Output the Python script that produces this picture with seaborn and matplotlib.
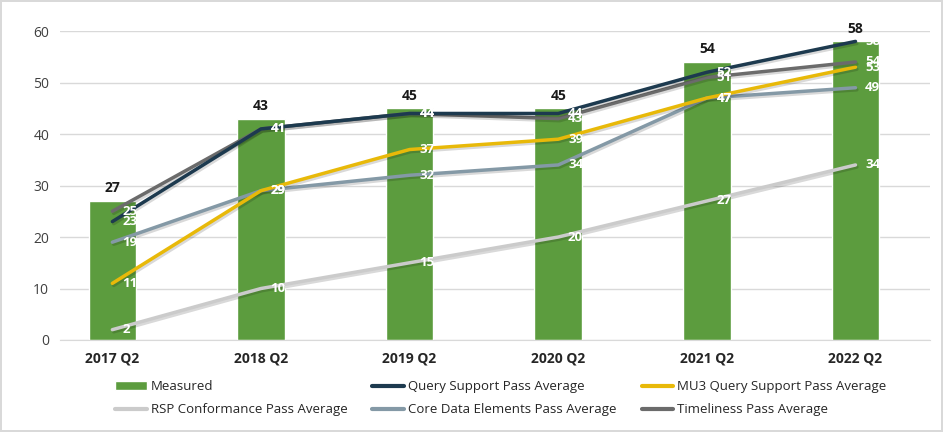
import matplotlib
matplotlib.use("Agg")
import matplotlib.pyplot as plt
import matplotlib.patheffects as pe
from matplotlib.patches import Patch
from matplotlib.lines import Line2D
import seaborn as sns
import pandas as pd

# data
quarters = ["2017 Q2", "2018 Q2", "2019 Q2", "2020 Q2", "2021 Q2", "2022 Q2"]
measured = [27, 43, 45, 45, 54, 58]
query_support = [23, 41, 44, 44, 52, 58]
mu3_query = [11, 29, 37, 39, 47, 53]
rsp_conformance = [2, 10, 15, 20, 27, 34]
core_data = [19, 29, 32, 34, 47, 49]
timeliness = [25, 41, 44, 43, 51, 54]

series = {
    "Query Support Pass Average": query_support,
    "MU3 Query Support Pass Average": mu3_query,
    "RSP Conformance Pass Average": rsp_conformance,
    "Core Data Elements Pass Average": core_data,
    "Timeliness Pass Average": timeliness,
}
colors = {
    "Query Support Pass Average": "#1d3a4f",
    "MU3 Query Support Pass Average": "#e8b909",
    "RSP Conformance Pass Average": "#cbcbcb",
    "Core Data Elements Pass Average": "#8499a6",
    "Timeliness Pass Average": "#6b6b6b",
}
bar_color = "#5c9c3e"

# draw order: lowest first so the darker lines sit on top
draw_order = ["RSP Conformance Pass Average", "Core Data Elements Pass Average",
              "MU3 Query Support Pass Average", "Timeliness Pass Average",
              "Query Support Pass Average"]

sns.set_style("white")
plt.rcParams["font.family"] = ["Open Sans", "DejaVu Sans"]

fig = plt.figure(figsize=(9.43, 4.32), dpi=100)
fig.patch.set_edgecolor("#d9d9d9")
fig.patch.set_linewidth(1.5)
ax = fig.add_axes([0.064, 0.213, 0.922, 0.715])

bars_df = pd.DataFrame({"quarter": quarters, "value": measured})
sns.barplot(data=bars_df, x="quarter", y="value", color=bar_color,
            width=0.32, saturation=1, ax=ax, zorder=2)
for i, v in enumerate(measured):
    ax.annotate(str(v), (i, v), xytext=(0, 4), textcoords="offset points",
                ha="center", va="bottom", fontsize=10, fontweight="bold",
                color="#1a1a1a", annotation_clip=False)

long_rows = []
for name in draw_order:
    for q, v in zip(quarters, series[name]):
        long_rows.append({"quarter": q, "value": v, "series": name})
lines_df = pd.DataFrame(long_rows)

sns.lineplot(data=lines_df, x="quarter", y="value", hue="series",
             hue_order=draw_order, palette=colors, linewidth=2.5,
             sort=False, legend=False, ax=ax, zorder=3,
             path_effects=[pe.SimpleLineShadow(offset=(1, -1.5), alpha=0.15),
                           pe.Normal()])

for name in draw_order:
    for i, v in enumerate(series[name]):
        ax.annotate(str(v), (i, v), xytext=(7, 0), textcoords="offset points",
                    ha="left", va="center", fontsize=9.5, fontweight="bold",
                    color="white", zorder=5)

ax.set_ylim(0, 60)
ax.set_xlim(-0.35, 5.5)
ax.set_yticks(range(0, 61, 10))
ax.yaxis.grid(True, color="#d9d9d9", linewidth=1)
ax.set_axisbelow(True)
ax.set_xlabel("")
ax.set_ylabel("")
for s in ["top", "right", "left"]:
    ax.spines[s].set_visible(False)
ax.spines["bottom"].set_color("#d9d9d9")
ax.tick_params(axis="y", length=0, labelsize=10, labelcolor="#404040", pad=8)
ax.tick_params(axis="x", length=0, labelsize=10, pad=8)
for lbl in ax.get_xticklabels():
    lbl.set_fontweight("bold")

h = {"Measured": Patch(facecolor=bar_color)}
for name in series:
    h[name] = Line2D([0], [0], color=colors[name], linewidth=3)
order = ["Measured", "RSP Conformance Pass Average",
         "Query Support Pass Average", "Core Data Elements Pass Average",
         "MU3 Query Support Pass Average", "Timeliness Pass Average"]
fig.legend([h[k] for k in order], order, ncol=3, loc="upper left",
           bbox_to_anchor=(0.115, 0.135), frameon=False, fontsize=9.5,
           handlelength=2.4, handleheight=0.7, columnspacing=1.9,
           labelspacing=0.75, handletextpad=0.3, borderpad=0)

fig.savefig("out.png", dpi=100)
